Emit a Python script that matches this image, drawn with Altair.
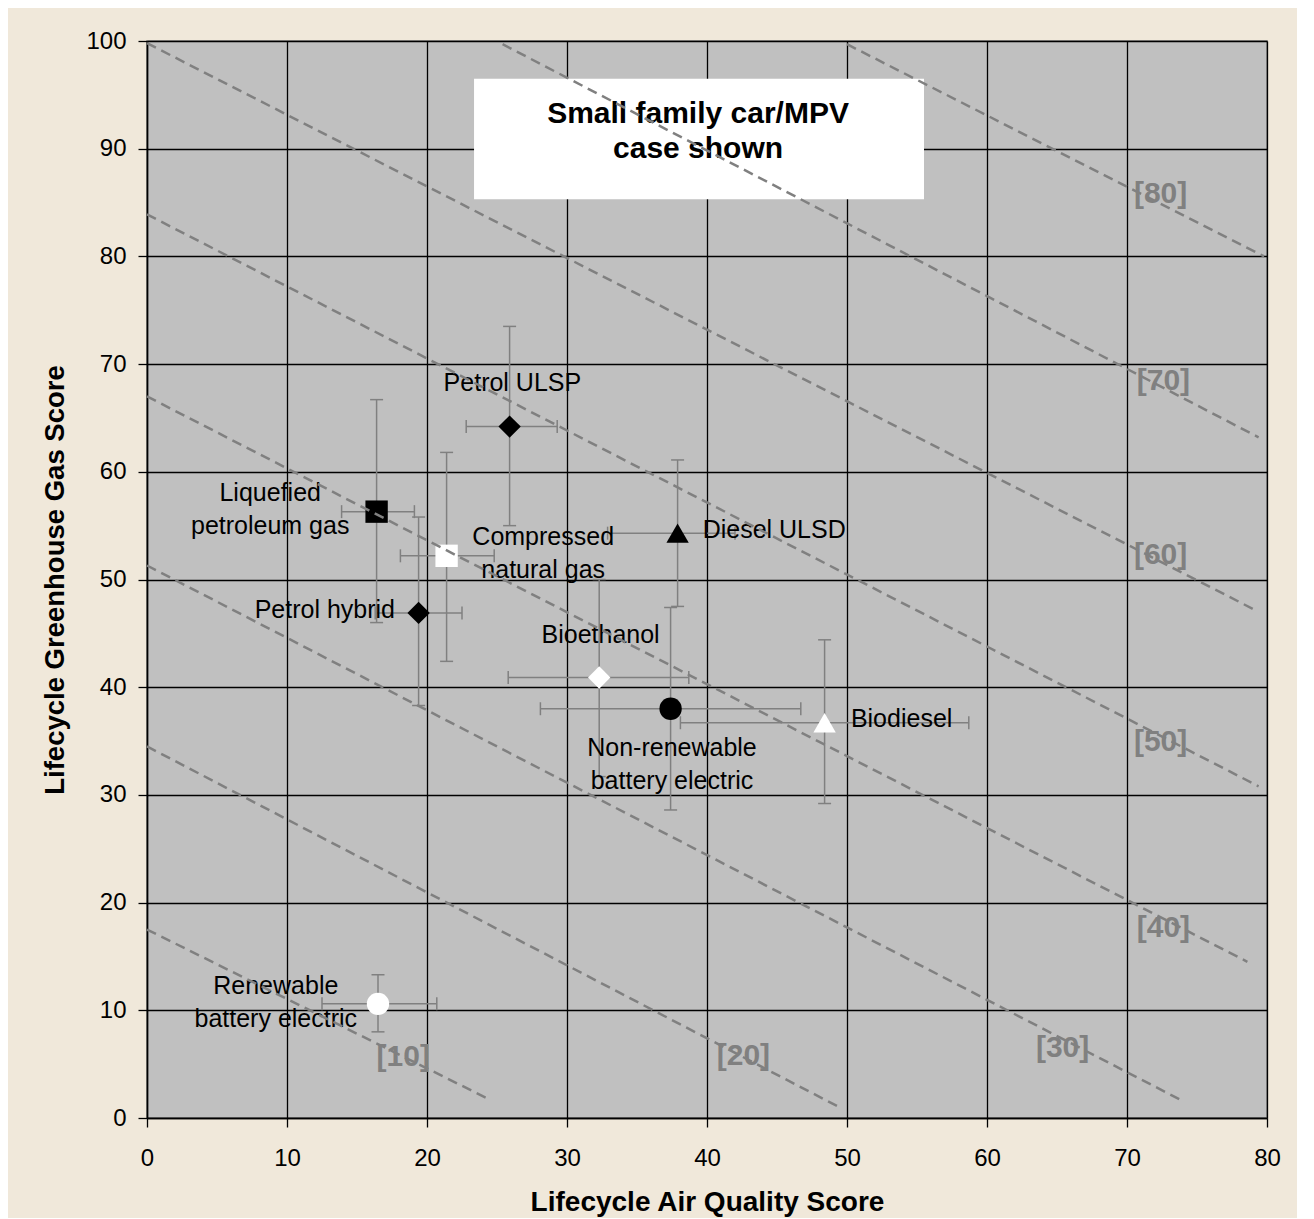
import altair as alt
import pandas as pd

FONT = "Liberation Sans"

# ---- data ----
fuels = ["Petrol ULSP", "Liquefied petroleum gas", "Compressed natural gas",
         "Petrol hybrid", "Diesel ULSD", "Bioethanol",
         "Non-renewable battery electric", "Biodiesel", "Renewable battery electric"]
aq = [25.9, 16.4, 21.4, 19.4, 37.9, 32.3, 37.4, 48.4, 16.5]
ghg = [64.2, 56.3, 52.2, 46.9, 54.3, 40.9, 38.0, 36.7, 10.6]
aq_lo = [22.8, 13.9, 18.1, 16.3, 32.9, 25.8, 28.1, 38.1, 12.5]
aq_hi = [29.3, 19.1, 24.8, 22.5, 42.0, 38.7, 46.7, 58.7, 20.7]
ghg_lo = [55.0, 46.0, 42.4, 38.3, 47.5, 31.7, 28.6, 29.2, 8.0]
ghg_hi = [73.5, 66.7, 61.8, 55.8, 61.1, 50.0, 47.4, 44.4, 13.3]

label_text = ["Petrol ULSP", "Liquefied\npetroleum gas", "Compressed\nnatural gas",
              "Petrol hybrid", "Diesel ULSD", "Bioethanol",
              "Non-renewable\nbattery electric", "Biodiesel", "Renewable\nbattery electric"]
label_x = [26.1, 8.8, 28.3, 12.7, 44.8, 32.4, 37.5, 53.9, 9.2]
label_y = [68.2, 58.0, 53.9, 47.2, 54.6, 44.85, 34.35, 37.05, 12.25]

shapes = ["diamond", "square", "square", "diamond", "triangle-up", "diamond",
          "circle", "triangle-up", "circle"]
fills = ["black", "black", "white", "black", "black", "white", "black", "white", "white"]

# iso-score dashed lines
iso_score = [10, 20, 30, 40, 50, 60, 70, 80]
iso_x0 = [0, 0, 0, 0, 0, 0, 25.4, 50.0]
iso_y0 = [17.5, 34.5, 51.3, 67.0, 83.9, 99.8, 99.7, 99.7]
iso_x1 = [24.5, 49.6, 73.8, 78.6, 79.4, 79.1, 79.4, 79.8]
iso_y1 = [1.7, 0.9, 1.7, 14.5, 30.8, 47.2, 63.2, 80.0]
iso_lab_x = [18.3, 42.6, 65.4, 72.6, 72.4, 72.4, 72.6, 72.4]
iso_lab_y = [5.7, 5.8, 6.5, 17.6, 34.9, 52.3, 68.4, 85.8]

box_text = "Small family car/MPV\ncase shown"
box_x = [23.36, 55.5]
box_y = [85.3, 96.5]
box_text_xy = [39.36, 93.2]

# ---- tables ----
pts = pd.DataFrame({"fuel": fuels, "aq": aq, "ghg": ghg, "aq_lo": aq_lo,
                    "aq_hi": aq_hi, "ghg_lo": ghg_lo, "ghg_hi": ghg_hi})
xcaps = pd.DataFrame({"cx": aq_lo + aq_hi, "cy": ghg + ghg})
ycaps = pd.DataFrame({"cx": aq + aq, "cy": ghg_lo + ghg_hi})
labels = pd.DataFrame({"t": label_text, "lx": label_x, "ly": label_y})
iso = pd.DataFrame({"score": iso_score * 2, "x": iso_x0 + iso_x1, "y": iso_y0 + iso_y1,
                    "o": [0] * 8 + [1] * 8})
iso_lab = pd.DataFrame({"t": [f"[{s}]" for s in iso_score], "x": iso_lab_x, "y": iso_lab_y})
box = pd.DataFrame({"x": [box_x[0]], "x2": [box_x[1]], "y": [box_y[0]], "y2": [box_y[1]],
                    "tx": [box_text_xy[0]], "ty": [box_text_xy[1]], "t": [box_text]})

xs = alt.Scale(domain=[0, 80], nice=False, zero=False)
ys = alt.Scale(domain=[0, 100], nice=False, zero=False)

xaxis = alt.Axis(values=list(range(0, 81, 10)), title="Lifecycle Air Quality Score",
                 grid=True, gridColor="black", gridWidth=1.3, gridOpacity=1,
                 domainColor="black", domainWidth=1.5, tickColor="black", tickSize=9,
                 tickWidth=1.3, labelFontSize=24, labelFont=FONT, labelColor="black",
                 labelPadding=19, labelOverlap=False, labelFlush=False,
                 titleFont=FONT, titleFontSize=28, titleFontWeight="bold",
                 titleColor="black", titlePadding=18)
yaxis = alt.Axis(values=list(range(0, 101, 10)), title="Lifecycle Greenhouse Gas Score",
                 grid=True, gridColor="black", gridWidth=1.3, gridOpacity=1,
                 domainColor="black", domainWidth=1.5, tickColor="black", tickSize=9,
                 tickWidth=1.3, labelFontSize=24, labelFont=FONT, labelColor="black",
                 labelPadding=12, labelOverlap=False, labelFlush=False,
                 titleFont=FONT, titleFontSize=27.5, titleFontWeight="bold",
                 titleColor="black", titlePadding=16)

GRAY = "#808080"

box_rect = alt.Chart(box).mark_rect(color="white").encode(
    x=alt.X("x:Q", scale=xs, axis=xaxis), x2="x2:Q",
    y=alt.Y("y:Q", scale=ys, axis=yaxis), y2="y2:Q")

hbar = alt.Chart(pts).mark_rule(color=GRAY, strokeWidth=1.5).encode(
    x=alt.X("aq_lo:Q", scale=xs), x2="aq_hi:Q", y=alt.Y("ghg:Q", scale=ys))
vbar = alt.Chart(pts).mark_rule(color=GRAY, strokeWidth=1.5).encode(
    y=alt.Y("ghg_lo:Q", scale=ys), y2="ghg_hi:Q", x=alt.X("aq:Q", scale=xs))
xcap = alt.Chart(xcaps).mark_tick(color=GRAY, orient="vertical", size=13,
                                   thickness=1.5, opacity=1).encode(
    x=alt.X("cx:Q", scale=xs), y=alt.Y("cy:Q", scale=ys))
ycap = alt.Chart(ycaps).mark_tick(color=GRAY, orient="horizontal", size=13,
                                   thickness=1.5, opacity=1).encode(
    x=alt.X("cx:Q", scale=xs), y=alt.Y("cy:Q", scale=ys))

points = alt.Chart(pts).mark_point(filled=True, size=500, opacity=1, strokeWidth=0).encode(
    x=alt.X("aq:Q", scale=xs), y=alt.Y("ghg:Q", scale=ys),
    shape=alt.Shape("fuel:N", scale=alt.Scale(domain=fuels, range=shapes), legend=None),
    fill=alt.Fill("fuel:N", scale=alt.Scale(domain=fuels, range=fills), legend=None))

texts = alt.Chart(labels).mark_text(font=FONT, fontSize=25, color="black",
                                    lineBreak="\n", lineHeight=33, align="center",
                                    baseline="middle").encode(
    x=alt.X("lx:Q", scale=xs), y=alt.Y("ly:Q", scale=ys), text="t:N")

box_txt = alt.Chart(box).mark_text(font=FONT, fontSize=30, fontWeight="bold", color="black",
                                   lineBreak="\n", lineHeight=35, align="center",
                                   baseline="middle").encode(
    x=alt.X("tx:Q", scale=xs), y=alt.Y("ty:Q", scale=ys), text="t:N")

iso_txt = alt.Chart(iso_lab).mark_text(font=FONT, fontSize=30, fontWeight="bold",
                                       color=GRAY, align="center", baseline="middle").encode(
    x=alt.X("x:Q", scale=xs), y=alt.Y("y:Q", scale=ys), text="t:N")

iso_lines = alt.Chart(iso).mark_line(color=GRAY, strokeWidth=2.5, strokeDash=[10, 6]).encode(
    x=alt.X("x:Q", scale=xs), y=alt.Y("y:Q", scale=ys),
    detail="score:N", order="o:Q")

chart = alt.layer(box_rect, hbar, vbar, xcap, ycap, points, texts, box_txt,
                  iso_txt, iso_lines).properties(
    width=1120, height=1077,
    autosize=alt.AutoSizeParams(type="none"),
    padding={"left": 139, "top": 33, "right": 30, "bottom": 100},
    background="#F0E8DA",
).configure_view(fill="#C0C0C0", stroke="#7a7a7a", strokeWidth=1.5)

chart.save("out.html", embed_options={"renderer": "svg", "actions": False})
